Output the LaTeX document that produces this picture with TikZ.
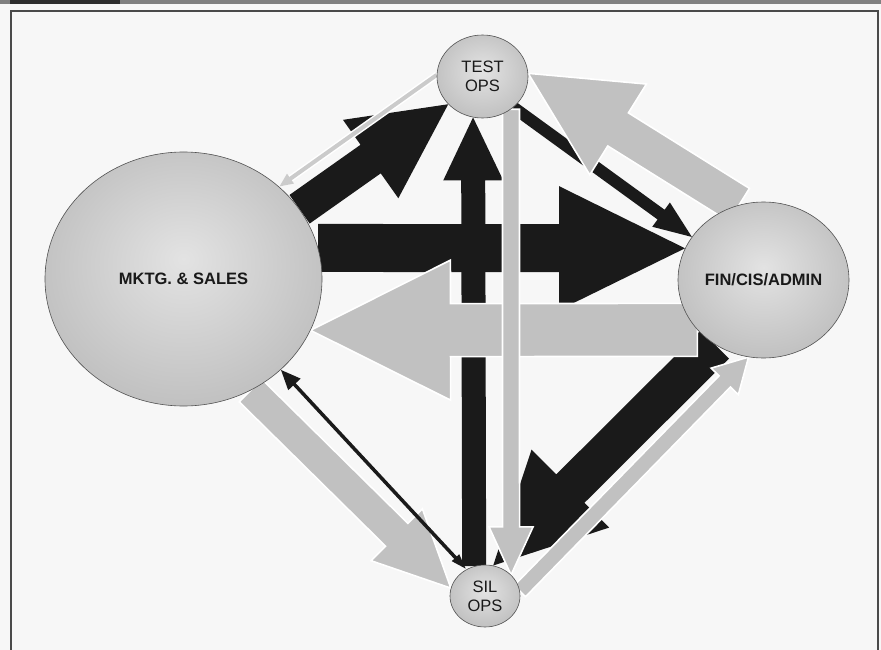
\documentclass[tikz,border=0pt]{standalone}
\usepackage{fontspec}
\setmainfont{Liberation Sans}
\usetikzlibrary{arrows.meta,backgrounds,calc,shapes.geometric}
\definecolor{flowblack}{HTML}{1A1A1A}
\definecolor{flowgray}{HTML}{C1C1C1}
\definecolor{flowlight}{HTML}{CBCBCB}
\definecolor{pageback}{HTML}{F7F7F7}
\definecolor{rulegray}{HTML}{4A4A4A}
\pgfdeclareradialshading{unitglow}{\pgfpoint{0bp}{4bp}}{color(0bp)=(black!11); color(28bp)=(black!25); color(50bp)=(black!40)}

% block arrow: style, from, to, shaft width, head width, head length
\newcommand\blockflow[6]{%
  \coordinate (bf-s) at (#2);
  \coordinate (bf-t) at (#3);
  \coordinate (bf-h) at ($(bf-t)!#6!(bf-s)$);
  \path[#1] ($(bf-s)!#4/2!90:(bf-t)$) -- ($(bf-h)!#4/2!90:(bf-t)$)
    -- ($(bf-h)!#5/2!90:(bf-t)$) -- (bf-t)
    -- ($(bf-h)!#5/2!-90:(bf-t)$) -- ($(bf-h)!#4/2!-90:(bf-t)$)
    -- ($(bf-s)!#4/2!-90:(bf-t)$) -- cycle;
}

\begin{document}
\begin{tikzpicture}[
    x=1pt,y=-1pt,
    unit/.style={ellipse,draw=black!68,line width=0.6pt,inner sep=0pt,
      shade,shading=unitglow,text=black!90,align=center,
      font=\fontsize{16.5}{19}\selectfont},
    darkflow/.style={fill=flowblack},
    grayflow/.style={fill=flowgray,draw=white,line width=1.6pt,line join=miter},
    thinflow/.style={draw=flowlight,line width=4pt,
      preaction={draw=white,line width=7pt}},
    darkline/.style={draw=flowblack,line width=3.5pt}
  ]
  \useasboundingbox (0,0) rectangle (881,650);

  \node[unit,minimum width=277pt,minimum height=254pt] (mktg) at (183.5,279) {\textbf{MKTG. \& SALES}};
  \node[unit,minimum width=91pt,minimum height=83pt] (test) at (482.5,76.5) {TEST\\OPS};
  \node[unit,minimum width=171pt,minimum height=156pt] (fin) at (763.5,280) {\textbf{FIN/CIS/ADMIN}};
  \node[unit,minimum width=70pt,minimum height=62pt] (sil) at (485,596) {SIL\\OPS};

  \begin{scope}[on background layer]
    \fill[pageback] (0,0) rectangle (881,650);
    \fill[black!50] (0,0) rectangle (881,4);
    \fill[black!82] (10,0) rectangle (120,4);
    \draw[rulegray,line width=1.8pt] (11,650) -- (11,11) -- (878,11) -- (878,650);

    % black flows
    \blockflow{darkflow}{mktg.13}{fin.158}{48pt}{124pt}{126pt}
    \blockflow{darkflow}{sil.110}{test.257}{24pt}{60pt}{63pt}
    \blockflow{darkflow}{mktg.31}{test.219}{35pt}{96pt}{95pt}
    \blockflow{darkflow}{test.315}{fin.149}{12pt}{30pt}{38pt}
    \blockflow{darkflow}{fin.233}{sil.75}{40pt}{110pt}{109pt}

    % gray flows
    \blockflow{grayflow}{fin.217}{mktg.338}{53pt}{140pt}{140pt}
    \blockflow{grayflow}{test.311}{sil.39}{17pt}{44pt}{48pt}
    \blockflow{grayflow}{fin.108}{test.4}{39pt}{107pt}{106pt}
    \draw[thinflow,-{Triangle[length=14pt,width=11pt]}] (test.178) -- (mktg.44);
    \blockflow{grayflow}{sil.8}{fin.259}{16pt}{38pt}{34pt}
    \blockflow{grayflow}{mktg.301}{sil.167}{32pt}{73pt}{76pt}

    \draw[darkline,{Triangle[length=16pt,width=9pt]}-{Triangle[length=20pt,width=16pt]}] (sil.125) -- (mktg.317);
  \end{scope}
\end{tikzpicture}
\end{document}
